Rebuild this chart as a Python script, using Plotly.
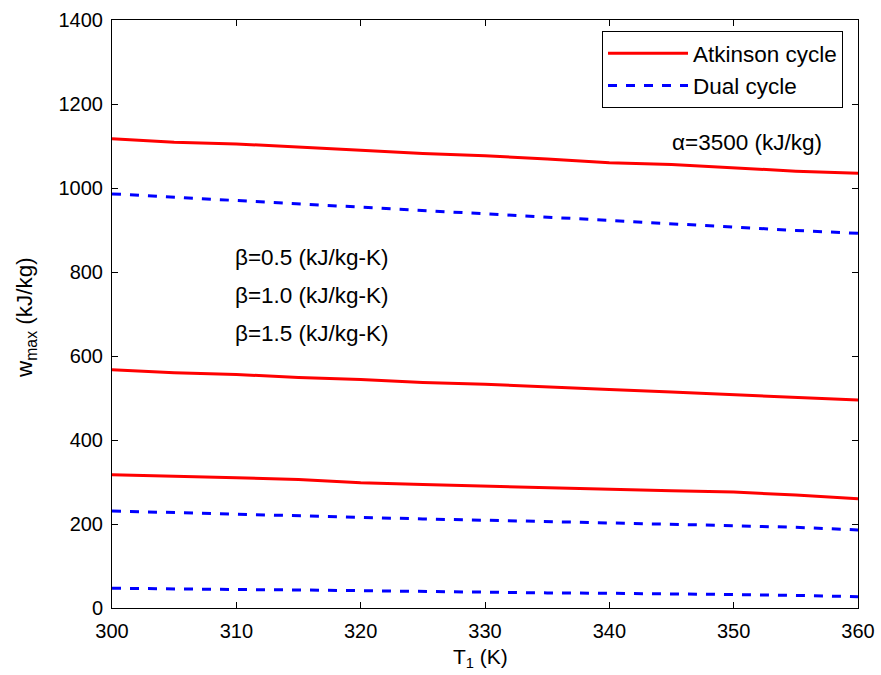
import plotly.graph_objects as go

T1 = [300, 305, 310, 315, 320, 325, 330, 335, 340, 345, 350, 355, 360]

atk_b05 = [1117, 1109, 1105, 1098, 1090, 1082, 1077, 1069, 1060, 1056, 1048, 1040, 1035]
atk_b10 = [567, 560, 556, 549, 544, 537, 533, 526, 520, 514, 508, 502, 495]
atk_b15 = [317, 314, 310, 306, 298, 294, 290, 287, 283, 279, 276, 269, 260]

dual_b05 = [986, 978, 970, 963, 955, 947, 939, 931, 923, 915, 907, 899, 892]
dual_b10 = [231, 227, 224, 219, 216, 212, 209, 206, 203, 200, 196, 192, 186]
dual_b15 = [47, 45, 44, 43, 41, 40, 38, 36, 35, 34, 32, 30, 27]

x_ticks = [300, 310, 320, 330, 340, 350, 360]
y_ticks = [0, 200, 400, 600, 800, 1000, 1200, 1400]

RED = "#FF0000"
BLUE = "#0000FF"
FONT = "Liberation Sans, Arial, sans-serif"

fig = go.Figure()
atk_series = [atk_b05, atk_b10, atk_b15]
dual_series = [dual_b05, dual_b10, dual_b15]
for i, ys in enumerate(atk_series):
    fig.add_trace(go.Scatter(x=T1, y=ys, mode="lines",
                             line=dict(color=RED, width=3),
                             name="Atkinson cycle", showlegend=(i == 0),
                             legendrank=1))
for i, ys in enumerate(dual_series):
    fig.add_trace(go.Scatter(x=T1, y=ys, mode="lines",
                             line=dict(color=BLUE, width=3, dash="dash"),
                             name="Dual cycle", showlegend=(i == 0),
                             legendrank=2))

L, R, T, B = 112, 858, 20, 608
W, H = 881, 675


def px(xp, yp):
    return (xp - L) / (R - L), (B - yp) / (B - T)


annots = [
    dict(x=670, y=143, text="α=3500 (kJ/kg)"),
    dict(x=233, y=257, text="β=0.5 (kJ/kg-K)"),
    dict(x=233, y=295, text="β=1.0 (kJ/kg-K)"),
    dict(x=233, y=333, text="β=1.5 (kJ/kg-K)"),
]
for a in annots:
    ax, ay = px(a["x"], a["y"])
    fig.add_annotation(x=ax, y=ay, xref="paper", yref="paper", text=a["text"],
                       showarrow=False, xanchor="left", yanchor="middle",
                       font=dict(family=FONT, size=22.5, color="black"))

# axis titles
tx, ty = px(480, 658)
fig.add_annotation(x=tx, y=ty, xref="paper", yref="paper", text="T<sub>1</sub> (K)",
                   showarrow=False, xanchor="center", yanchor="middle",
                   font=dict(family=FONT, size=21, color="black"))
wx, wy = px(26, 318)
fig.add_annotation(x=wx, y=wy, xref="paper", yref="paper", text="w<sub>max</sub> (kJ/kg)",
                   showarrow=False, xanchor="center", yanchor="middle", textangle=-90,
                   font=dict(family=FONT, size=22.5, color="black"))

axis_common = dict(showline=True, linecolor="black", linewidth=1, mirror="ticks",
                   ticks="inside", ticklen=6, tickcolor="black", showgrid=False,
                   zeroline=False, automargin=False,
                   tickfont=dict(family=FONT, size=20, color="black"))

fig.update_xaxes(range=[300, 360], tickvals=x_ticks, ticklabelstandoff=5, **axis_common)
fig.update_yaxes(range=[0, 1400], tickvals=y_ticks, ticklabelstandoff=4, **axis_common)

lx, ly = px(602, 31)
fig.update_layout(
    width=W, height=H,
    margin=dict(l=L, r=W - R, t=T, b=H - B),
    plot_bgcolor="white", paper_bgcolor="white",
    legend=dict(x=lx, y=ly, xanchor="left", yanchor="top",
                bordercolor="black", borderwidth=1, bgcolor="white",
                font=dict(family=FONT, size=22.5, color="black"),
                tracegroupgap=0, itemwidth=80, entrywidth=160, entrywidthmode="pixels"),
)

fig.write_html("out.html", config={"displayModeBar": False},
               post_script="document.body.style.margin='0';document.body.style.overflow='hidden';")
